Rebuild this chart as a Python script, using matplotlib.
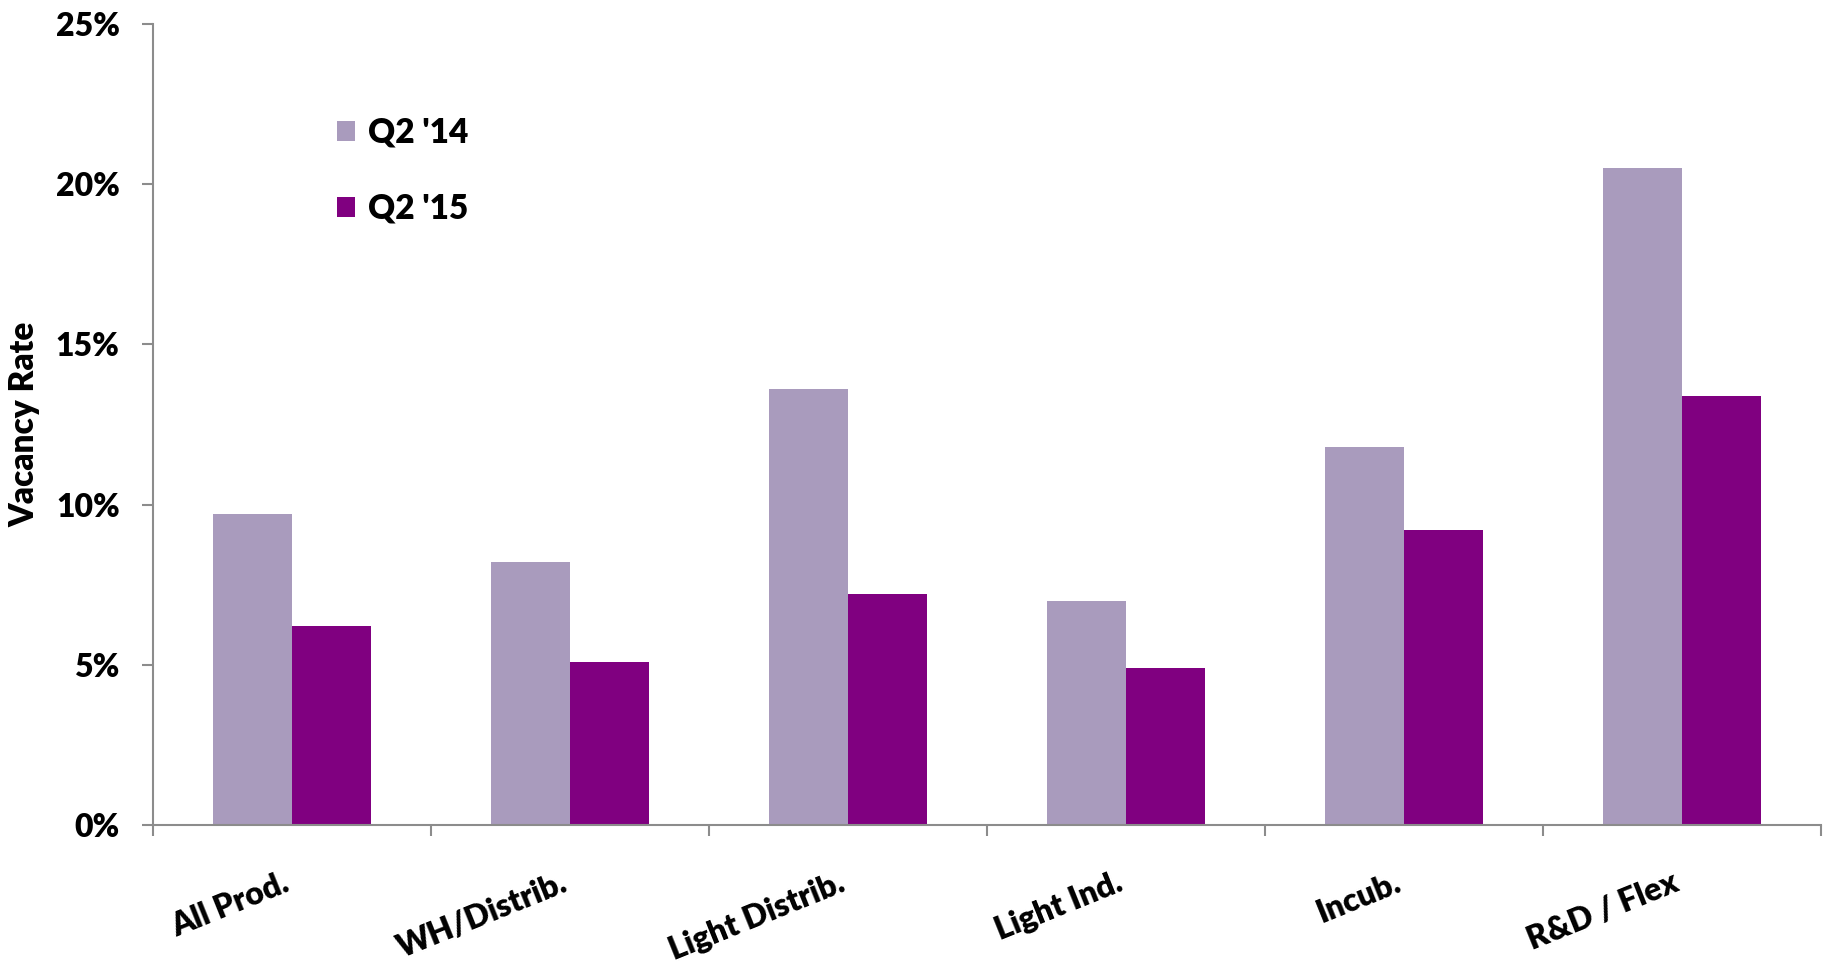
import numpy as np
import matplotlib.pyplot as plt
import matplotlib.transforms as mtransforms
from matplotlib.ticker import PercentFormatter

categories = ['All Prod.', 'WH/Distrib.', 'Light Distrib.', 'Light Ind.', 'Incub.', 'R&D / Flex']
q2_14 = [9.7, 8.2, 13.6, 7.0, 11.8, 20.5]
q2_15 = [6.2, 5.1, 7.2, 4.9, 9.2, 13.4]
series_names = ["Q2 '14", "Q2 '15"]

plt.rcParams['font.family'] = ['Lato', 'DejaVu Sans']
plt.rcParams['font.weight'] = 'heavy'

fig = plt.figure(figsize=(18.33, 9.64), dpi=100)
ax = fig.add_axes([0.0835, 0.1442, 0.91, 0.8308])

x = np.arange(len(categories))
w = 0.284
ax.bar(x - w / 2, q2_14, w, color='#a99bbd', label=series_names[0])
ax.bar(x + w / 2, q2_15, w, color='#800080', label=series_names[1])

ax.set_xlim(-0.5, len(categories) - 0.5)
ax.set_ylim(0, 25)
ax.set_yticks(np.arange(0, 26, 5))
ax.yaxis.set_major_formatter(PercentFormatter(decimals=0))

# category boundaries as ticks, labels at centres
ax.set_xticks(x)
ax.set_xticklabels(categories, rotation=22, ha='right', va='top', rotation_mode='anchor',
                   fontsize=23, fontweight='heavy')
ax.set_xticks(np.arange(-0.5, len(categories), 1), minor=True)
ax.tick_params(axis='x', which='major', length=0, pad=31)
ax.tick_params(axis='x', which='minor', length=8, width=1.5, color='#8c8c8c', direction='out')
ax.tick_params(axis='y', length=8, width=1.5, color='#8c8c8c', pad=16, labelsize=23)
for lab in ax.get_yticklabels():
    lab.set_fontweight('heavy')
shift = mtransforms.ScaledTranslation(-10 / 100, 0, fig.dpi_scale_trans)
for lab in ax.get_xticklabels():
    lab.set_transform(lab.get_transform() + shift)

for s in ['top', 'right']:
    ax.spines[s].set_visible(False)
for s in ['left', 'bottom']:
    ax.spines[s].set_color('#8c8c8c')
    ax.spines[s].set_linewidth(1.5)

ax.set_ylabel('Vacancy Rate', fontsize=24, fontweight='heavy', labelpad=11)

ax.legend(loc='upper left', bbox_to_anchor=(0.092, 0.922), frameon=False,
          handlelength=0.55, handleheight=0.55, labelspacing=1.33,
          handletextpad=0.4, prop={'weight': 'heavy', 'size': 24})

fig.savefig('out.png', dpi=100)
